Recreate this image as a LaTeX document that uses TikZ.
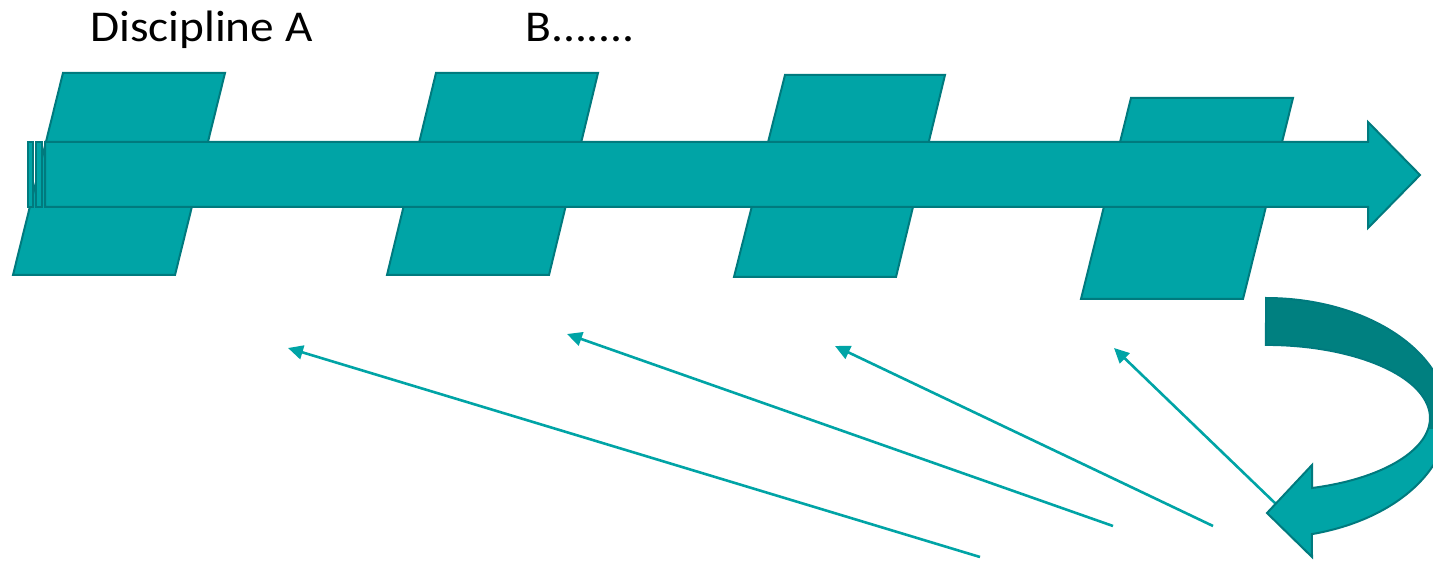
\documentclass[tikz,border=0pt]{standalone}
\usepackage{fontspec}
\setmainfont{Carlito}
\usetikzlibrary{arrows.meta}
\definecolor{tealfill}{RGB}{0,164,166}
\definecolor{tealline}{RGB}{0,122,126}
\definecolor{tealdark}{RGB}{0,128,128}
\begin{document}
\begin{tikzpicture}[x=1pt,y=-1pt,
  shapefill/.style={fill=tealfill,draw=tealline,line width=2pt,line join=miter},
  thinarrow/.style={draw=tealfill,line width=2.6pt,-{Triangle[length=15pt,width=14pt]}},
  heading/.style={font=\fontsize{44}{50}\selectfont,anchor=base west,inner sep=0pt}]
\useasboundingbox (0,0) rectangle (1433,561);
\fill[white] (0,0) rectangle (1433,561);

% headings
\node[heading] (discA) at (90,42) {\scalebox{1.075}[1]{Discipline A}};
\node[heading] (discB) at (525,42) {\scalebox{1.08}[1]{B.......}};

% parallelograms
\draw[shapefill] (63,73) -- (225,73) -- (175,275) -- (13,275) -- cycle;
\draw[shapefill] (436,73) -- (598,73) -- (549,275) -- (387,275) -- cycle;
\draw[shapefill] (785,75) -- (945,75) -- (896,277) -- (734,277) -- cycle;
\draw[shapefill] (1131,98) -- (1293,98) -- (1243,299) -- (1081,299) -- cycle;

% striped main arrow
\draw[shapefill] (28,142) rectangle (33,207);
\draw[shapefill] (36,142) rectangle (42,207);
\draw[shapefill] (45,142) -- (1368,142) -- (1368,122) -- (1420,175) -- (1368,228) -- (1368,207) -- (45,207) -- cycle;

% thin arrows
\coordinate (s1) at (980,557); \coordinate (t1) at (288,348);
\coordinate (s2) at (1113,526); \coordinate (t2) at (567,334);
\coordinate (s3) at (1213,526); \coordinate (t3) at (835,346);
\coordinate (s4) at (1277,505); \coordinate (t4) at (1114,348);
\draw[thinarrow] (s1) -- (t1);
\draw[thinarrow] (s2) -- (t2);
\draw[thinarrow] (s3) -- (t3);
\draw[thinarrow] (s4) -- (t4);

% curved arrow
\fill[tealfill] (1266,298) arc[start angle=-90,end angle=75.4,x radius=182,y radius=120]
  -- (1312,557) -- (1267,513) -- (1312,465) -- (1312,488)
  arc[start angle=73.7,end angle=-90,x radius=164,y radius=73] -- cycle;
\begin{scope}
\clip (1200,280) rectangle (1500,428);
\fill[tealdark] (1266,298) arc[start angle=-90,end angle=75.4,x radius=182,y radius=120]
  -- (1312,557) -- (1267,513) -- (1312,465) -- (1312,488)
  arc[start angle=73.7,end angle=-90,x radius=164,y radius=73] -- cycle;
\end{scope}
\draw[draw=tealline,line width=2pt,line join=miter] (1266,298) arc[start angle=-90,end angle=75.4,x radius=182,y radius=120]
  -- (1312,557) -- (1267,513) -- (1312,465) -- (1312,488)
  arc[start angle=73.7,end angle=-90,x radius=164,y radius=73] -- cycle;
\end{tikzpicture}
\end{document}
